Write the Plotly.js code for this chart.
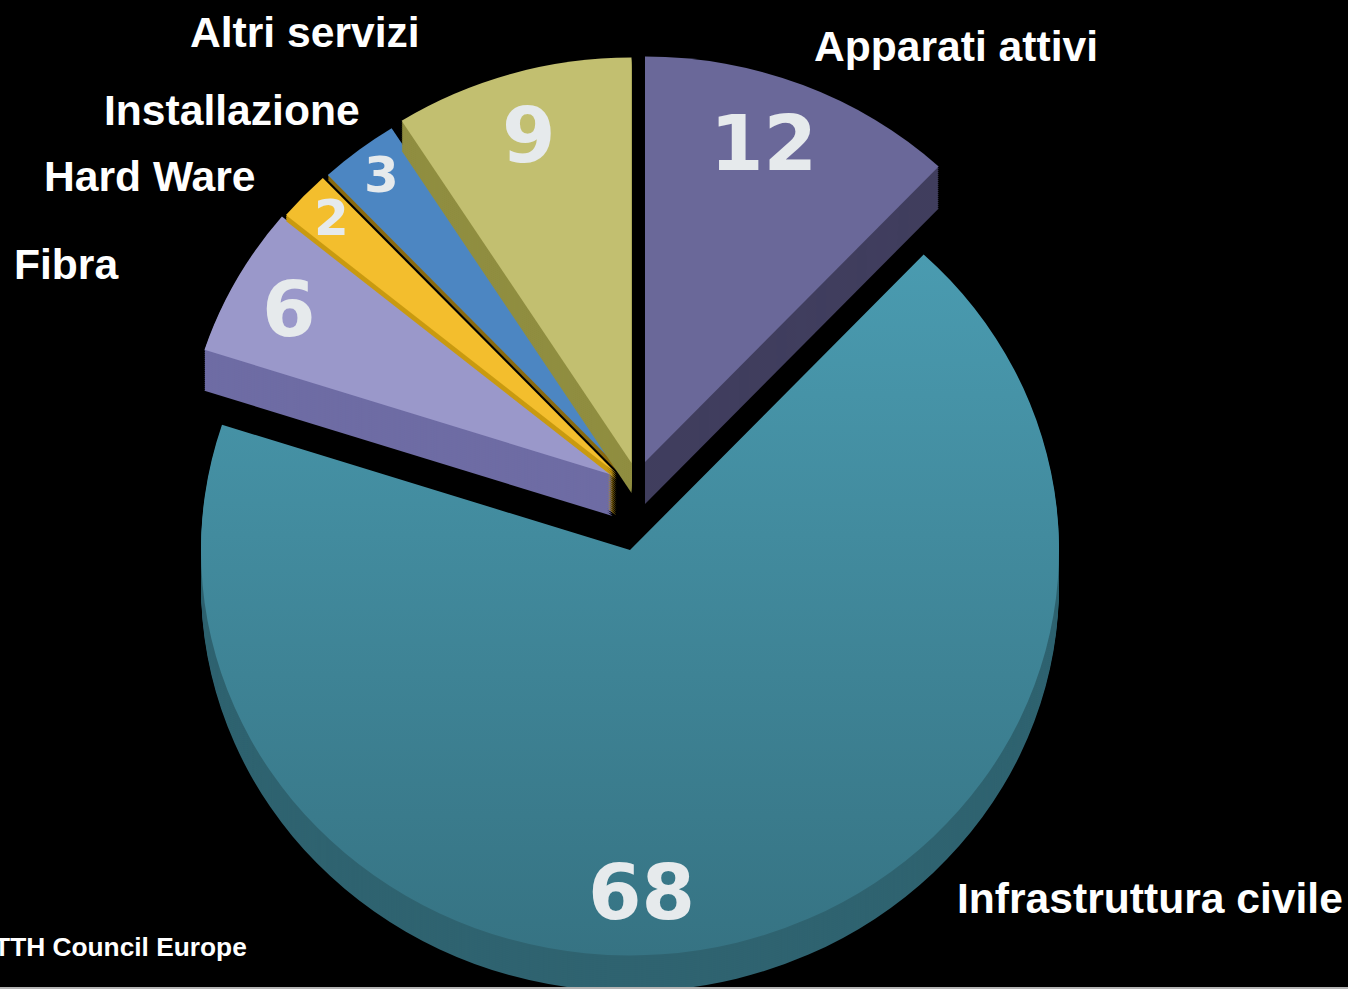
<!DOCTYPE html>
<html>
<head>
<meta charset="utf-8">
<script src="https://cdn.plot.ly/plotly-3.0.1.min.js"></script>
<style>
html,body{margin:0;padding:0;background:#000;width:1348px;height:989px;overflow:hidden}
#chart{width:1348px;height:1060px}
</style>
</head>
<body>
<div id="chart"></div>
<script>
const categories = ["Apparati attivi","Infrastruttura civile","Fibra","Hard Ware","Installazione","Altri servizi"];
const values = [12,68,6,2,3,9];
const sourceNote = "FTTH Council Europe";

const topColors  = ["#6a6899","#4893a7","#9a98ca","#f3be2d","#4c86c2","#c2bf70"];
const wallColors = ["#403e5e","#2f6370","#6e6ca4","#c99a10","#8a6a10","#908e40"];

const W = 1348, H = 1060, R = 429, SQUASH = 0.945, STEP = 2;

// screen position of each slice's apex
const apexX = [645,630,612.5,616.5,621.5,631.5];
const apexY = [462,550,475,473.5,470.5,463];

function px(x,y){ return {x:x/W, y:1-y/H}; }

function layer(i, dy, colour){
  const cx = apexX[i], cy = (apexY[i]+dy)/SQUASH;
  return {
    type:'pie', values:values, labels:categories, sort:false, direction:'clockwise', rotation:0,
    textinfo:'none', hoverinfo:'skip', showlegend:false,
    marker:{colors:values.map((v,j)=> j===i ? colour : 'rgba(0,0,0,0)'), line:{width:0}},
    domain:{x:[(cx-R)/W,(cx+R)/W], y:[1-(cy+R)/H, 1-(cy-R)/H]}
  };
}
function wall(i, depth){
  const out = [];
  for(let d=depth; d>0; d-=STEP) out.push(layer(i,d,wallColors[i]));
  return out;
}
function solid(i, depth){
  return wall(i,depth).concat([layer(i,0,topColors[i])]);
}

const traces = [];
traces.push(...solid(1,36));
const infraTopIndex = traces.length-1;
traces.push(...solid(0,42));
traces.push(...wall(3,42));
traces.push(...solid(2,41));
traces.push(...solid(3,6));
traces.push(...solid(4,5));
traces.push(...solid(5,30));

const nameX = [956,1149.5,66,149,232,305];
const nameY = [46,898,264,176,110,32];
const numX  = [763,641,289,331,381,529];
const numY  = [144,892,309,218,175,135];
const numSize = [77,77,77,50,50,77];

const annotations = [];
categories.forEach((c,i)=>{
  const p = px(nameX[i],nameY[i]);
  annotations.push({xref:'paper',yref:'paper',x:p.x,y:p.y,text:c,showarrow:false,xanchor:'center',yanchor:'middle',
    font:{family:'"Liberation Sans",Arial,sans-serif',size:42.6,color:'#ffffff',weight:700}});
  const q = px(numX[i],numY[i]);
  annotations.push({xref:'paper',yref:'paper',x:q.x,y:q.y,text:String(values[i]),showarrow:false,xanchor:'center',yanchor:'middle',
    font:{family:'"DejaVu Sans",sans-serif',size:numSize[i],color:'#e6eaec',weight:700}});
});
const n = px(249,947);
annotations.push({xref:'paper',yref:'paper',x:n.x,y:n.y,text:sourceNote,showarrow:false,xanchor:'right',yanchor:'middle',
  font:{family:'"Liberation Sans",Arial,sans-serif',size:26.3,color:'#ffffff',weight:700}});

const layout = {
  width:W, height:H, margin:{l:0,r:0,t:0,b:0},
  paper_bgcolor:'#000', plot_bgcolor:'#000', showlegend:false,
  annotations:annotations,
  shapes:[{type:'rect',xref:'paper',yref:'paper',x0:0,x1:1,y0:1-989/H,y1:1-987/H,fillcolor:'#b4b4b4',line:{width:0}}]
};

Plotly.newPlot('chart',traces,layout,{displayModeBar:false,staticPlot:true}).then(gd=>{
  const pl = gd.querySelector('.pielayer');
  pl.setAttribute('transform','scale(1,'+SQUASH+')');
  const svg = gd.querySelector('svg.main-svg');
  const ns = 'http://www.w3.org/2000/svg';
  const defs = svg.querySelector('defs') || svg.insertBefore(document.createElementNS(ns,'defs'),svg.firstChild);
  const g = document.createElementNS(ns,'linearGradient');
  g.id='infraGrad'; g.setAttribute('gradientUnits','objectBoundingBox');
  g.setAttribute('x1','0');g.setAttribute('y1','0');g.setAttribute('x2','0');g.setAttribute('y2','1');
  [['0','#4a9bb0'],['1','#367383']].forEach(s=>{
    const st=document.createElementNS(ns,'stop'); st.setAttribute('offset',s[0]); st.setAttribute('stop-color',s[1]); g.appendChild(st);
  });
  defs.appendChild(g);
  const tr = pl.querySelectorAll('.trace')[infraTopIndex];
  const sl = tr.querySelectorAll('path.surface')[1];
  if(sl) sl.style.fill='url(#infraGrad)';
});
</script>
</body>
</html>
